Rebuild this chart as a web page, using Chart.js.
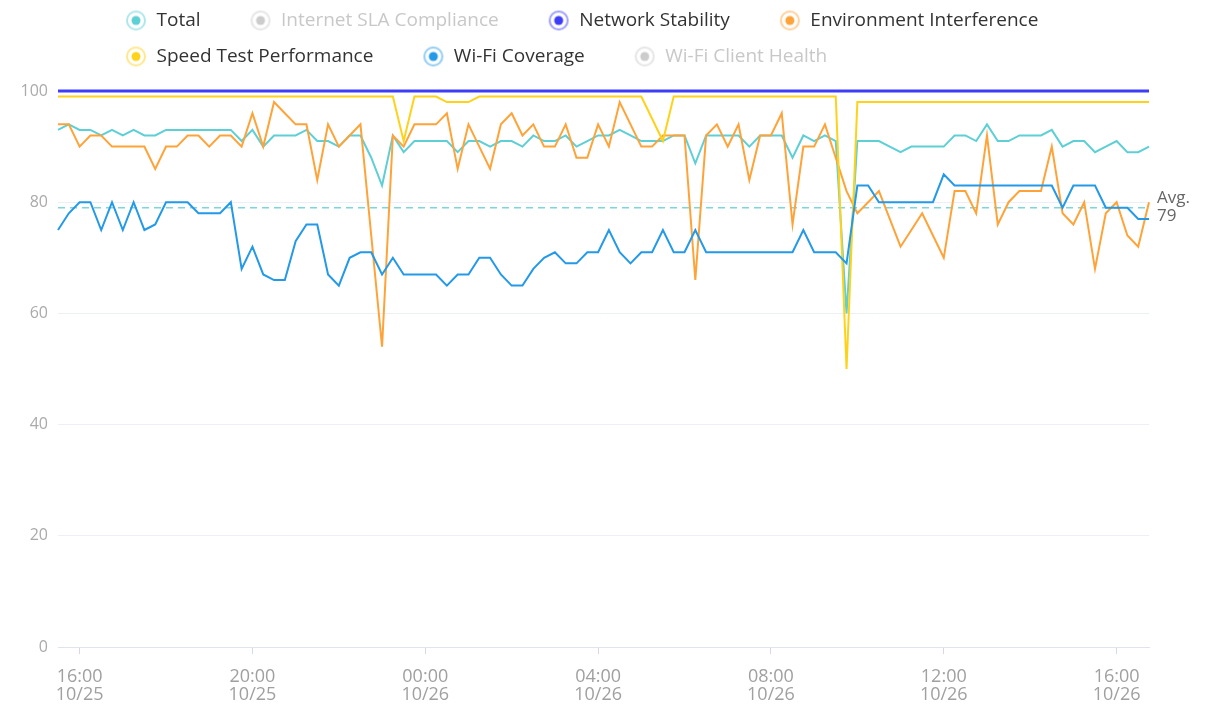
<!DOCTYPE html>
<html>
<head>
<meta charset="utf-8">
<script src="https://cdn.jsdelivr.net/npm/chart.js@4.4.0/dist/chart.umd.min.js"></script>
<style>
  html, body { margin: 0; padding: 0; background: #fff; }
  #chart { display: block; }
</style>
</head>
<body>
<canvas id="chart" width="1206" height="704"></canvas>
<script>
const seriesNames = ['Total', 'Internet SLA Compliance', 'Network Stability', 'Environment Interference', 'Speed Test Performance', 'Wi-Fi Coverage', 'Wi-Fi Client Health'];
const seriesColors = ['#5ecfd5', '#cccccc', '#3d3df8', '#ffa338', '#ffd21a', '#2399e8', '#cccccc'];
const hiddenSeries = ['Internet SLA Compliance', 'Wi-Fi Client Health'];

// samples every 15 min, 10/25 15:30 -> 10/26 16:45
const startDay = 25, startMinute = 15 * 60 + 30, stepMinutes = 15, sampleCount = 102;
const tickLabels = ['10/25 16:00', '10/25 20:00', '10/26 00:00', '10/26 04:00', '10/26 08:00', '10/26 12:00', '10/26 16:00'];
const yTicks = [0, 20, 40, 60, 80, 100];
const averageValue = 79;

const total = [
  93,94,93,93,92,93,92,93,92,92,93,93,93,93,93,93,
  93,91,93,90,92,92,92,93,91,91,90,92,92,88,83,92,
  89,91,91,91,91,89,91,91,90,91,91,90,92,91,91,92,
  90,91,92,92,93,92,91,91,91,92,92,87,92,92,92,92,
  90,92,92,92,88,92,91,92,91,60,91,91,91,90,89,90,
  90,90,90,92,92,91,94,91,91,92,92,92,93,90,91,91,
  89,90,91,89,89,90
];
const networkStability = [
  100,100,100,100,100,100,100,100,100,100,100,100,100,100,100,100,
  100,100,100,100,100,100,100,100,100,100,100,100,100,100,100,100,
  100,100,100,100,100,100,100,100,100,100,100,100,100,100,100,100,
  100,100,100,100,100,100,100,100,100,100,100,100,100,100,100,100,
  100,100,100,100,100,100,100,100,100,100,100,100,100,100,100,100,
  100,100,100,100,100,100,100,100,100,100,100,100,100,100,100,100,
  100,100,100,100,100,100
];
const environmentInterference = [
  94,94,90,92,92,90,90,90,90,86,90,90,92,92,90,92,
  92,90,96,90,98,96,94,94,84,94,90,92,94,74,54,92,
  90,94,94,94,96,86,94,90,86,94,96,92,94,90,90,94,
  88,88,94,90,98,94,90,90,92,92,92,66,92,94,90,94,
  84,92,92,96,76,90,90,94,88,82,78,80,82,77,72,75,
  78,74,70,82,82,78,92,76,80,82,82,82,90,78,76,80,
  68,78,80,74,72,80
];
const speedTest = [
  99,99,99,99,99,99,99,99,99,99,99,99,99,99,99,99,
  99,99,99,99,99,99,99,99,99,99,99,99,99,99,99,99,
  91,99,99,99,98,98,98,99,99,99,99,99,99,99,99,99,
  99,99,99,99,99,99,99,95,91,99,99,99,99,99,99,99,
  99,99,99,99,99,99,99,99,99,50,98,98,98,98,98,98,
  98,98,98,98,98,98,98,98,98,98,98,98,98,98,98,98,
  98,98,98,98,98,98
];
const wifiCoverage = [
  75,78,80,80,75,80,75,80,75,76,80,80,80,78,78,78,
  80,68,72,67,66,66,73,76,76,67,65,70,71,71,67,70,
  67,67,67,67,65,67,67,70,70,67,65,65,68,70,71,69,
  69,71,71,75,71,69,71,71,75,71,71,75,71,71,71,71,
  71,71,71,71,71,75,71,71,71,69,83,83,80,80,80,80,
  80,80,85,83,83,83,83,83,83,83,83,83,83,79,83,83,
  83,79,79,79,77,77
];
const seriesData = [total, [], networkStability, environmentInterference, speedTest, wifiCoverage, []];
const seriesWidths = [2, 2, 3, 2, 2, 2, 2];

const sampleLabels = [];
for (let i = 0; i < sampleCount; i++) {
  const m = startMinute + i * stepMinutes;
  const day = startDay + Math.floor(m / 1440);
  const mm = m % 1440;
  sampleLabels.push('10/' + day + ' ' + String(Math.floor(mm / 60)).padStart(2, '0') + ':' + String(mm % 60).padStart(2, '0'));
}

// legend marker: light ring + solid dot, blank space on the left gives the item gap
function legendMarker(color) {
  const c = document.createElement('canvas');
  c.width = 54; c.height = 22;
  const g = c.getContext('2d');
  g.globalAlpha = 0.5;
  g.strokeStyle = color;
  g.lineWidth = 2;
  g.beginPath(); g.arc(43, 11, 9, 0, Math.PI * 2); g.stroke();
  g.globalAlpha = 1;
  g.fillStyle = color;
  g.beginPath(); g.arc(43, 11, 4.5, 0, Math.PI * 2); g.fill();
  return c;
}

const avgLine = {
  id: 'avgLine',
  beforeDatasetsDraw(chart) {
    const {ctx, chartArea: a, scales: {y}} = chart;
    const py = y.getPixelForValue(averageValue);
    ctx.save();
    ctx.strokeStyle = '#7ed6dd';
    ctx.lineWidth = 1.5;
    ctx.setLineDash([7, 5]);
    ctx.beginPath(); ctx.moveTo(a.left, py); ctx.lineTo(a.right, py); ctx.stroke();
    ctx.setLineDash([]);
    ctx.fillStyle = '#666';
    ctx.font = '17px "Open Sans"';
    ctx.textBaseline = 'middle';
    ctx.fillText('Avg.', a.right + 8, py - 10);
    ctx.fillText(String(averageValue), a.right + 8, py + 8);
    ctx.restore();
  }
};

const legendShift = {
  id: 'legendShift',
  afterLayout(chart) {
    const lg = chart.legend;
    lg.left += 76; lg.right += 76;
    lg.top -= 15; lg.bottom -= 15;
  }
};

Chart.defaults.font.family = '"Open Sans", sans-serif';

let miCanvas = document.getElementById('chart').getContext('2d');
var chart = new Chart(miCanvas, {
  type: 'line',
  data: {
    labels: sampleLabels,
    datasets: seriesNames.map((name, i) => ({
      label: name,
      data: seriesData[i],
      borderColor: seriesColors[i],
      backgroundColor: seriesColors[i],
      borderWidth: seriesWidths[i],
      pointRadius: 0,
      tension: 0,
      fill: false,
      clip: false,
      hidden: hiddenSeries.includes(name),
      order: -i
    }))
  },
  options: {
    responsive: false,
    animation: false,
    layout: { padding: { top: 9, right: 57 } },
    plugins: {
      tooltip: { enabled: false },
      legend: {
        position: 'top',
        align: 'start',
        labels: {
          usePointStyle: true,
          pointStyleWidth: 54,
          padding: 17,
          font: { size: 19 },
          generateLabels(chart) {
            return chart.data.datasets.map((ds, i) => ({
              text: ds.label,
              fillStyle: ds.borderColor,
              strokeStyle: ds.borderColor,
              lineWidth: 0,
              pointStyle: legendMarker(ds.borderColor),
              fontColor: ds.hidden ? '#c8c8c8' : '#333',
              hidden: false,
              datasetIndex: i
            }));
          }
        }
      }
    },
    scales: {
      x: {
        type: 'category',
        offset: false,
        afterFit: (s) => { s.height = 57; },
        grid: { drawOnChartArea: false, drawTicks: true, tickLength: 7, color: '#d5d9e0' },
        border: { display: true, color: '#dfe3ea', width: 1 },
        ticks: {
          autoSkip: false,
          maxRotation: 0,
          padding: 14,
          color: '#a0a0a0',
          font: { size: 18, lineHeight: 1 },
          callback: function (value) {
            const lab = this.getLabelForValue(value);
            return tickLabels.includes(lab) ? [lab.slice(6), lab.slice(0, 5)] : null;
          }
        }
      },
      y: {
        min: yTicks[0],
        max: yTicks[yTicks.length - 1],
        afterFit: (s) => { s.width = 58; },
        grid: { drawTicks: false, color: '#eceff5' },
        border: { display: false },
        ticks: { stepSize: 20, padding: 10, color: '#aaa', font: { size: 16 } }
      }
    }
  },
  plugins: [avgLine, legendShift]
});
</script>
</body>
</html>
